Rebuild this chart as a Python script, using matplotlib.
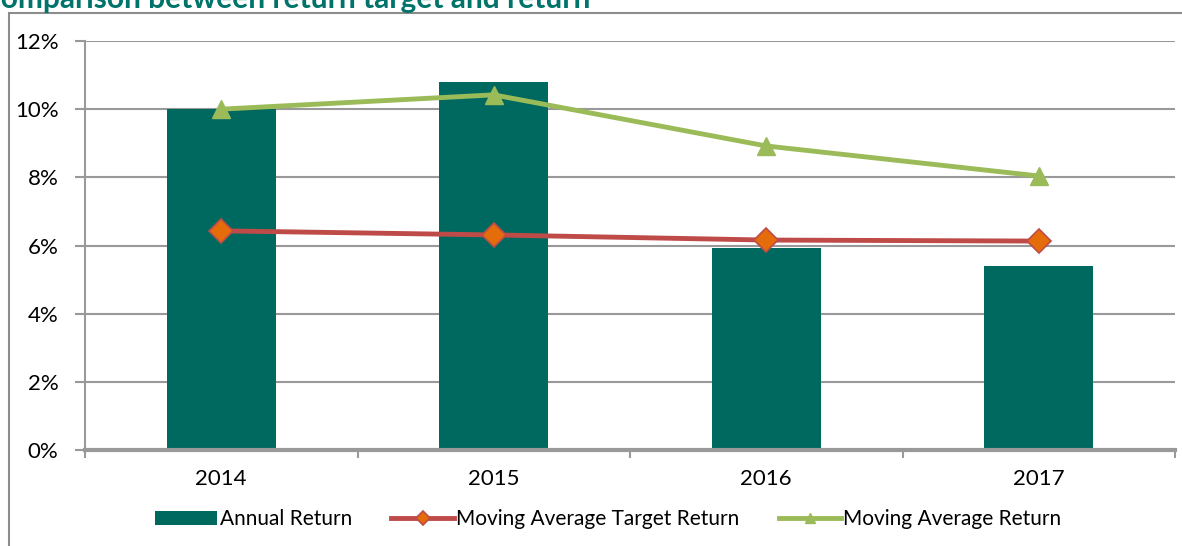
import numpy as np
import matplotlib.pyplot as plt
from matplotlib.patches import Rectangle

plt.rcParams['font.family'] = ['Lato', 'DejaVu Sans']

years = ["2014", "2015", "2016", "2017"]
annual_return = [10.0, 10.8, 5.93, 5.40]
target_return = [6.43, 6.31, 6.16, 6.13]
avg_return = [10.0, 10.42, 8.92, 8.04]

teal = "#00695F"
red = "#BE4B48"
orange = "#E46C0A"
green = "#9BBB59"
grey = "#999999"

fig = plt.figure(figsize=(11.82, 5.46), dpi=100)
ax = fig.add_axes([85 / 1182, 96 / 546, 1090 / 1182, 409 / 546])

# chart border and clipped title
fig.add_artist(Rectangle((9 / 1182, -0.1), 1.2, 0.1 + 533 / 546, transform=fig.transFigure,
                         fill=False, edgecolor="#8c8c8c", lw=1.5))
fig.text(-0.016, 538 / 546, "Comparison between return target and return", color="#00736A",
         fontsize=21.5, fontweight="bold", va="baseline", ha="left")

x = np.arange(len(years))
bars = ax.bar(x, annual_return, width=0.4, color=teal, label="Annual Return", zorder=2)
l1, = ax.plot(x, target_return, color=red, lw=3.5, marker="D", markersize=12,
              markerfacecolor=orange, markeredgecolor=red, markeredgewidth=1.2,
              label="Moving Average Target Return", zorder=3)
l2, = ax.plot(x, avg_return, color=green, lw=3.5, marker="^", markersize=13,
              markerfacecolor=green, markeredgecolor=green,
              label="Moving Average Return", zorder=3)

ax.set_xlim(-0.5, 3.5)
ax.set_ylim(0, 12)
ax.set_yticks(np.arange(0, 13, 2))
ax.set_yticklabels([f"{v}%" for v in range(0, 13, 2)])
ax.set_xticks(x)
ax.set_xticklabels(years)
ax.set_xticks(np.arange(-0.5, 4, 1), minor=True)
ax.tick_params(axis="x", which="major", length=0, pad=14, labelsize=16)
ax.tick_params(axis="x", which="minor", length=6, width=1.5, color=grey)
ax.tick_params(axis="y", length=7, width=1.5, color=grey, labelsize=16, pad=12)

ax.grid(axis="y", color=grey, lw=1.5, zorder=0)
ax.set_axisbelow(True)
for s in ["top", "right"]:
    ax.spines[s].set_visible(False)
ax.spines["left"].set_color(grey)
ax.spines["left"].set_linewidth(1.5)
ax.spines["bottom"].set_color(grey)
ax.spines["bottom"].set_linewidth(3)

leg = ax.legend([bars, l1, l2], [bars.get_label(), l1.get_label(), l2.get_label()],
                loc="center", bbox_to_anchor=(0.48, -0.169), ncol=3, frameon=False,
                fontsize=15, handlelength=3.0, columnspacing=1.9, handletextpad=0.1)
for h in leg.legend_handles[1:]:
    h.set_markersize(7)

fig.savefig("out.png", dpi=100)
